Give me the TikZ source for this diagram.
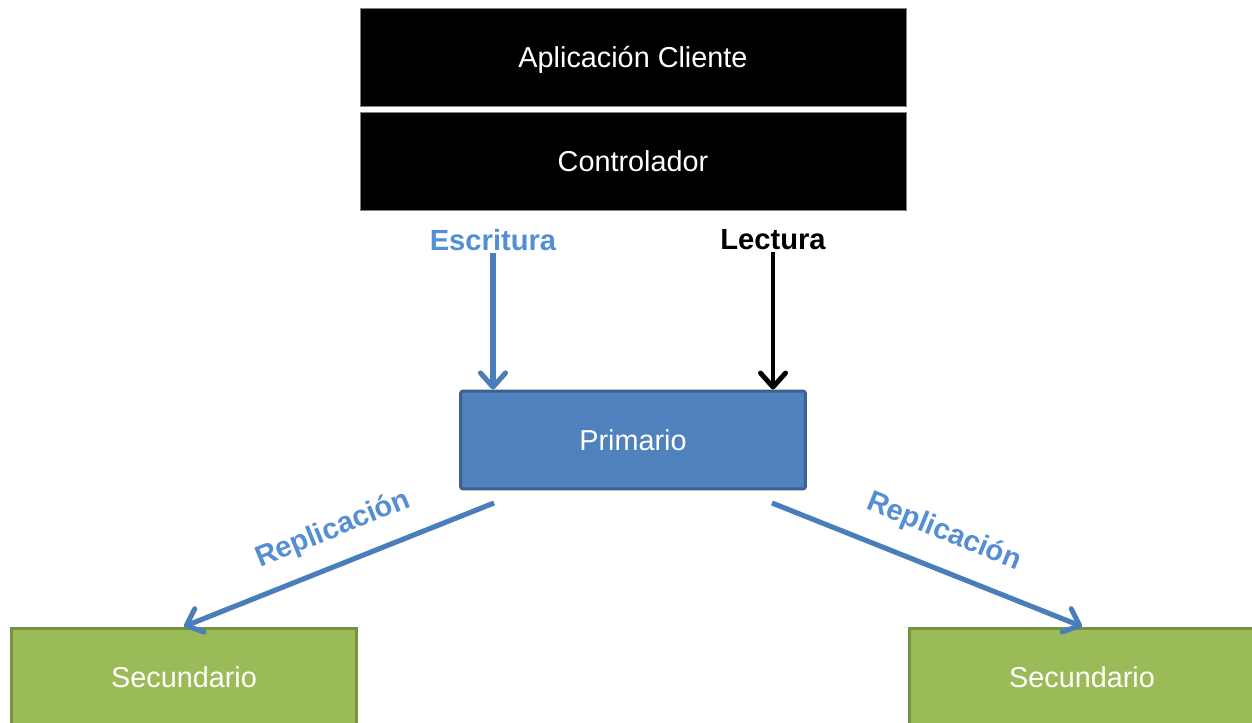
\documentclass[tikz,border=0pt]{standalone}
\usepackage{fontspec}
\setmainfont{Liberation Sans}
\usetikzlibrary{arrows.meta,positioning}
\definecolor{primblue}{HTML}{4F81BD}
\definecolor{primedge}{HTML}{3B6190}
\definecolor{secgreen}{HTML}{9BBB59}
\definecolor{secedge}{HTML}{76923C}
\definecolor{txtblue}{HTML}{558ED5}
\definecolor{arrblue}{HTML}{4A7EBB}
\begin{document}
\begin{tikzpicture}[x=0.02cm,y=-0.02cm,
  tipbarb/.style={-{Straight Barb[length=2.8mm,width=5mm,line cap=round,line join=round]}},
  topbox/.style={draw=black!50,line width=0.5pt,fill=black,text=white,minimum width=10.92cm,minimum height=1.96cm,inner sep=2pt,text height=12pt,text depth=0pt,font=\fontsize{16.4}{19}\selectfont},
  secbox/.style={draw=secedge,line width=1.7pt,fill=secgreen,text=white,minimum width=6.9cm,minimum height=1.96cm,inner sep=2pt,font=\fontsize{16.4}{19}\selectfont},
  lbl/.style={inner sep=1pt,font=\fontsize{16.6}{19}\selectfont\bfseries}]
\useasboundingbox (0,0) rectangle (1252,723);
\clip (0,0) rectangle (1252,723);
% client stack
\node[topbox] (app) at (633,57) {Aplicación Cliente};
\node[topbox] (ctrl) at (633,161) {Controlador};
% replica set
\node[draw=primedge,line width=1.7pt,rounded corners=1.5pt,fill=primblue,text=white,minimum width=6.9cm,minimum height=1.96cm,inner sep=2pt,font=\fontsize{16.4}{19}\selectfont] (prim) at (633,440) {Primario};
\node[secbox] (secl) at (184,677) {Secundario};
\node[secbox] (secr) at (1082,677) {Secundario};
% operations
\node[lbl,text=txtblue] (esc) at (493,240) {Escritura};
\node[lbl,text=black] (lec) at (773,240) {Lectura};
\draw[tipbarb,arrblue,line width=2.9pt] (esc.south) -- (esc.south |- prim.north);
\draw[tipbarb,black,line width=2.8pt] (lec.south) -- (lec.south |- prim.north);
% replication
\coordinate (repl) at (494,503);
\coordinate (repr) at (772,503);
\draw[tipbarb,arrblue,line width=2.9pt] (repl) -- (secl.north);
\draw[tipbarb,arrblue,line width=2.9pt] (repr) -- (secr.north);
\node[lbl,text=txtblue,rotate=22.1] (rlbl) at (333,530) {Replicación};
\node[lbl,text=txtblue,rotate=-22.1] (rlbr) at (944,532) {Replicación};
\end{tikzpicture}
\end{document}
